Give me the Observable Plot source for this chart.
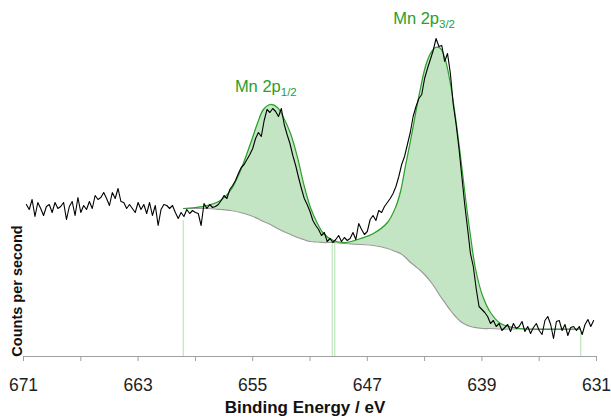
<!DOCTYPE html>
<html><head><meta charset="utf-8">
<script src="https://cdn.jsdelivr.net/npm/d3@7"></script>
<script src="https://cdn.jsdelivr.net/npm/@observablehq/plot@0.6"></script>
<style>body{margin:0;background:#fff} #chart svg{display:block}</style>
</head><body><div id="chart"></div>
<script>
// Raw spectrum: binding energy grid (eV) and counts (arbitrary units)
const rawStartEnergy = 670.8;
const rawStepEnergy = 0.2;
const rawCounts = [
152,147,157,140,154,148,141,150,152,144,
154,148,150,154,137,150,155,141,159,144,
151,147,155,148,161,157,159,164,158,151,
164,158,168,155,154,148,152,148,144,154,
147,152,143,154,141,151,131,147,152,151,
148,151,144,138,144,140,147,
143,146,144,143,131,153,148,152,149,150,
152,156,161,158,167,171,176,183,189,192,
197,202,208,218,224,220,236,247,244,248,
245,240,248,232,222,213,201,191,179,168,
158,152,145,136,131,127,121,124,115,118,114,
117,121,115,119,116,118,124,117,133,127,
122,125,137,141,136,146,144,150,154,158,
163,170,180,192,200,212,224,240,250,258,
262,278,288,297,306,318,310,311,295,303,
283,252,232,208,180,152,128,103,90,68,
50,47,44,40,33,36,30,33,26,29,
32,25,33,28,30,35,25,30,23,29,
33,26,22,36,40,32,18,35,36,26,
32,21,29,30,26,30,22,32,37,30,36
];

// Fit: envelope and Shirley background
const fitEnergy = [659.83,658.99,658.16,657.25,656.55,655.85,655.15,654.67,654.25,653.76,653.27,652.85,652.36,651.87,651.45,650.97,650.48,650.06,649.36,648.52,647.47,646.57,645.59,645.03,644.68,644.33,643.98,643.63,643.29,642.94,642.59,642.24,641.89,641.54,641.19,640.84,640.49,640.14,639.79,639.45,638.96,638.40,637.70,636.79,635.95,632.12];
const fitEnvelope = [148,149,151,156,166,186,213,233,247,252,249,239,223,199,173,149,133,123,116,114,118,123,134,149,165,191,216,243,268,290,303,309,308,296,272,239,200,158,120,88,61,44,33,29,27.5,27.5];
const fitBackground = [148,148,148,147,146,144,141,138,135,132,128,125,122,119,117,115,114.5,114,114,113,112,111,108,105,103,99,94,90,86,81,75,68,60,53,46,40,35,32,30,29,28,28,27.5,27.5,27.5,27.5];

// Region boundaries
const regionBounds = [659.85, 649.45, 649.27, 632.1];
const regionBoundTop = [136, 113, 113, 24];

// Axis ticks
const majorTicks = [671, 663, 655, 647, 639, 631];
const minorTicks = [667, 659, 651, 643, 635];

// Peak labels
const peakNames = ["Mn 2p", "Mn 2p"];
const peakSubs = ["1/2", "3/2"];
const peakLabelEnergy = [654.05, 643.0];
const peakLabelLevel = [264, 332];

const raw = rawCounts.map((c, i) => ({e: rawStartEnergy - i * rawStepEnergy, c}));
const fit = fitEnergy.map((e, i) => ({e, env: fitEnvelope[i], bg: fitBackground[i]}));
const bounds = regionBounds.map((e, i) => ({e, top: regionBoundTop[i]}));

const FONT = "'Liberation Sans', Arial, Helvetica, sans-serif";
const green = "#2a9e2a";

const chart = Plot.plot({
  width: 611, height: 418,
  marginLeft: 23, marginRight: 15, marginTop: 36, marginBottom: 62,
  style: {fontFamily: FONT, background: "#fff", overflow: "visible"},
  x: {domain: [671, 631]},
  y: {domain: [0, 320], axis: null},
  marks: [
    Plot.areaY(fit, {x: "e", y1: "bg", y2: "env", curve: "catmull-rom", fill: "#c3e5c3"}),
    Plot.ruleX(bounds, {x: "e", y1: 0, y2: "top", stroke: "#b3e0b3", strokeWidth: 1}),
    Plot.line(fit, {x: "e", y: "bg", curve: "catmull-rom", stroke: "#999", strokeWidth: 1.2}),
    Plot.line(fit, {x: "e", y: "env", curve: "catmull-rom", stroke: green, strokeWidth: 1.2}),
    Plot.line(raw, {x: "e", y: "c", stroke: "#000", strokeWidth: 1.1}),
    Plot.ruleY([0], {stroke: "#a0a0a0", strokeWidth: 1.2}),
    Plot.axisX({ticks: minorTicks, tickSize: 5, stroke: "#a0a0a0", tickFormat: () => "", label: null}),
    Plot.axisX({ticks: majorTicks, tickSize: 5, tickPadding: 17, stroke: "#a0a0a0", fill: "#222", fontSize: 17.5, tickFormat: d => String(d), label: null})
  ]
});

document.getElementById("chart").appendChild(chart);

const sx = chart.scale("x"), sy = chart.scale("y");
const svg = d3.select(chart);

peakNames.forEach((name, i) => {
  const t = svg.append("text")
    .attr("x", sx.apply(peakLabelEnergy[i]))
    .attr("y", sy.apply(peakLabelLevel[i]))
    .attr("text-anchor", "middle")
    .attr("fill", green)
    .attr("font-family", FONT)
    .attr("font-size", 16.5);
  t.append("tspan").text(name);
  t.append("tspan").attr("font-size", 11.5).attr("dy", 4).text(peakSubs[i]);
});

svg.append("text")
  .attr("x", 305).attr("y", 413)
  .attr("text-anchor", "middle")
  .attr("font-family", FONT).attr("font-weight", "bold").attr("font-size", 17)
  .attr("fill", "#111")
  .text("Binding Energy / eV");

svg.append("text")
  .attr("transform", "translate(22,291) rotate(-90)")
  .attr("text-anchor", "middle")
  .attr("font-family", FONT).attr("font-weight", "bold").attr("font-size", 14.5)
  .attr("fill", "#111")
  .text("Counts per second");
</script>
</body></html>
